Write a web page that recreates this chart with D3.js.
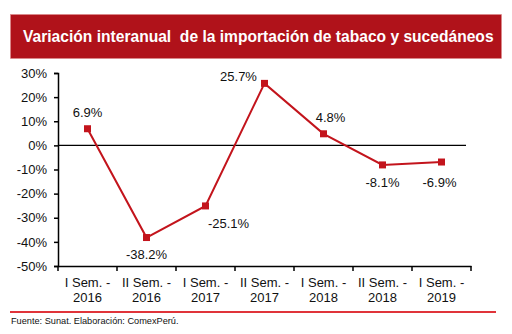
<!DOCTYPE html>
<html>
<head>
<meta charset="utf-8">
<script src="https://cdn.jsdelivr.net/npm/d3@7"></script>
<style>
  body { margin: 0; background: #fff; }
  svg { font-family: "Liberation Sans", Arial, sans-serif; }
</style>
</head>
<body>
<div id="main"></div>
<script>
var categories = [
  ["I Sem. -", "2016"], ["II Sem. -", "2016"], ["I Sem. -", "2017"],
  ["II Sem. -", "2017"], ["I Sem. -", "2018"], ["II Sem. -", "2018"],
  ["I Sem. -", "2019"]
];
var values = [6.9, -38.2, -25.1, 25.7, 4.8, -8.1, -6.9];
var yTicks = [30, 20, 10, 0, -10, -20, -30, -40, -50];
// label placement: dx, dy relative to point
var labelPos = [[0, -12], [0, 21], [23, 22], [-26, -2], [7, -12], [0, 22], [-2, 25]];

var W = 512, H = 334;
var svg = d3.select('#main').append('svg').attr('width', W).attr('height', H);

// title banner
svg.append('rect').attr('x', 10.5).attr('y', 14.5).attr('width', 491).attr('height', 44)
  .attr('fill', '#B0121A').attr('stroke', '#d88').attr('stroke-width', 0.5);
svg.append('text').attr('x', 23).attr('y', 42)
  .attr('fill', '#fff').attr('font-weight', 'bold').attr('font-size', 15.6)
  .attr('xml:space', 'preserve')
  .text('Variación interanual  de la importación de tabaco y sucedáneos');

var x = d3.scaleBand().domain(d3.range(categories.length)).range([58, 471]);
var y = d3.scaleLinear().domain([-50, 30]).range([266, 73]);

// y axis
var yAxis = svg.append('g').attr('transform', 'translate(58,0)')
  .call(d3.axisLeft(y).tickValues(yTicks).tickSize(4).tickFormat(function(d) { return d + '%'; }));
yAxis.select('.domain').attr('stroke', '#000').attr('stroke-width', 1.5);
yAxis.selectAll('.tick line').attr('stroke', '#000').attr('stroke-width', 1.5);
yAxis.selectAll('.tick text').attr('font-size', 13).attr('fill', '#111')
  .attr('font-family', '"Liberation Sans", Arial, sans-serif').attr('x', -11);

// x axis
var xAxis = svg.append('g').attr('transform', 'translate(0,266)')
  .call(d3.axisBottom(x).tickSize(0).tickFormat(''));
xAxis.select('.domain').attr('stroke', '#000').attr('stroke-width', 1.5);
var bounds = d3.range(categories.length + 1).map(function(i) { return 58 + i * x.bandwidth(); });
xAxis.selectAll('.bt').data(bounds).enter().append('line')
  .attr('x1', function(d) { return d; }).attr('x2', function(d) { return d; })
  .attr('y1', 0).attr('y2', 5).attr('stroke', '#000').attr('stroke-width', 1.5);

var lab = svg.append('g').selectAll('text').data(categories).enter().append('text')
  .attr('text-anchor', 'middle').attr('font-size', 13).attr('fill', '#111');
lab.append('tspan').attr('x', function(d, i) { return x(i) + x.bandwidth() / 2; })
  .attr('y', 287).text(function(d) { return d[0]; });
lab.append('tspan').attr('x', function(d, i) { return x(i) + x.bandwidth() / 2; })
  .attr('y', 302).text(function(d) { return d[1]; });

// zero line
svg.append('line').attr('x1', 58).attr('x2', 466).attr('y1', y(0)).attr('y2', y(0))
  .attr('stroke', '#000').attr('stroke-width', 1.2);

// series
var cx = function(d, i) { return x(i) + x.bandwidth() / 2; };
svg.append('path').datum(values)
  .attr('d', d3.line().x(cx).y(function(d) { return y(d); }))
  .attr('fill', 'none').attr('stroke', '#C3141C').attr('stroke-width', 2);
svg.selectAll('.pt').data(values).enter().append('rect')
  .attr('x', function(d, i) { return cx(d, i) - 3.5; })
  .attr('y', function(d) { return y(d) - 3.5; })
  .attr('width', 7).attr('height', 7).attr('fill', '#C3141C');

svg.selectAll('.vl').data(values).enter().append('text')
  .attr('x', function(d, i) { return cx(d, i) + labelPos[i][0]; })
  .attr('y', function(d, i) { return y(d) + labelPos[i][1]; })
  .attr('text-anchor', 'middle').attr('font-size', 13).attr('fill', '#111')
  .text(function(d) { return d.toFixed(1) + '%'; });

// footer
svg.append('line').attr('x1', 10).attr('x2', 496).attr('y1', 312).attr('y2', 312)
  .attr('stroke', '#E0343A').attr('stroke-width', 2);
svg.append('text').attr('x', 11).attr('y', 324).attr('font-size', 9.2).attr('fill', '#111')
  .text('Fuente: Sunat. Elaboración: ComexPerú.');
</script>
</body>
</html>
